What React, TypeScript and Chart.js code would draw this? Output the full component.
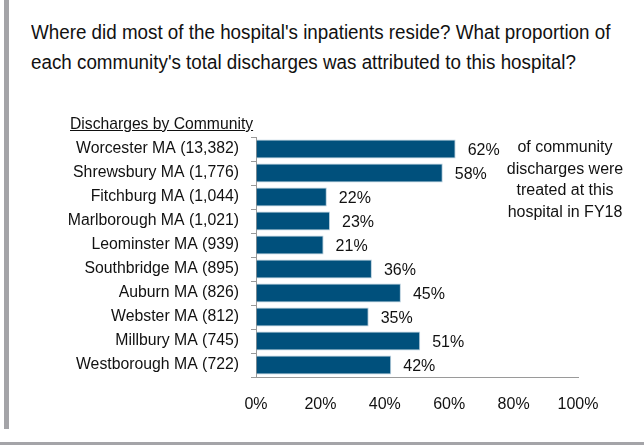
import React, { useEffect, useRef } from "react";
import { Chart, registerables } from "chart.js";

Chart.register(...registerables);

const communities = [
  "Worcester MA (13,382)",
  "Shrewsbury MA (1,776)",
  "Fitchburg MA (1,044)",
  "Marlborough MA (1,021)",
  "Leominster MA (939)",
  "Southbridge MA (895)",
  "Auburn MA (826)",
  "Webster MA (812)",
  "Millbury MA (745)",
  "Westborough MA (722)",
];
const sharePercent = [62, 58, 22, 23, 21, 36, 45, 35, 51, 42];
const xTickValues = [0, 20, 40, 60, 80, 100];
const titleLines = [
  "Where did most of the hospital's inpatients reside? What proportion of",
  "each community's total discharges was attributed to this hospital?",
];
const axisHeading = "Discharges by Community";
const noteLines = [
  "of community",
  "discharges were",
  "treated at this",
  "hospital in FY18",
];

const FONT = '"Liberation Sans", Arial, sans-serif';
const BAR_COLOR = "#00507C";
const AXIS_COLOR = "#9a9a9a";

export default function App() {
  const canvasRef = useRef<HTMLCanvasElement | null>(null);

  useEffect(() => {
    const canvas = canvasRef.current;
    if (!canvas) return;

    const labelPlugin = {
      id: "barValueLabels",
      afterDatasetsDraw(chart: any) {
        const ctx = chart.ctx;
        const meta = chart.getDatasetMeta(0);
        ctx.save();
        ctx.font = `16px ${FONT}`;
        ctx.fillStyle = "#111";
        ctx.textAlign = "left";
        ctx.textBaseline = "middle";
        meta.data.forEach((el: any, i: number) => {
          ctx.fillText(`${sharePercent[i]}%`, el.x + 12, el.y + 2);
        });
        ctx.restore();
      },
    };

    const chart = new Chart(canvas, {
      type: "bar",
      data: {
        labels: communities,
        datasets: [
          {
            data: sharePercent,
            backgroundColor: BAR_COLOR,
            borderColor: "#b9cfdd",
            borderWidth: 1,
            categoryPercentage: 0.8,
            barPercentage: 1,
          },
        ],
      },
      options: {
        indexAxis: "y",
        animation: false,
        responsive: false,
        maintainAspectRatio: false,
        layout: { padding: { top: 137, right: 66, left: 0, bottom: 0 } },
        plugins: {
          legend: { display: false },
          tooltip: { enabled: false },
          title: { display: false },
        },
        scales: {
          y: {
            type: "category",
            offset: true,
            grid: {
              offset: true,
              drawOnChartArea: false,
              drawTicks: true,
              tickLength: 5,
              color: AXIS_COLOR,
            },
            border: { display: true, color: AXIS_COLOR, width: 1 },
            ticks: {
              autoSkip: false,
              font: { size: 15.8, family: FONT },
              color: "#111",
              padding: 12,
            },
            afterFit: (s: any) => {
              s.width = 256;
            },
          },
          x: {
            type: "linear",
            min: 0,
            max: 100,
            afterBuildTicks: (s: any) => {
              s.ticks = xTickValues.map((v) => ({ value: v }));
            },
            grid: { drawOnChartArea: false, drawTicks: false },
            border: { display: true, color: AXIS_COLOR, width: 1 },
            ticks: {
              autoSkip: false,
              font: { size: 16, family: FONT },
              color: "#111",
              padding: 18,
              callback: (v: any) => `${v}%`,
            },
            afterFit: (s: any) => {
              s.height = 68;
            },
          },
        },
      },
      plugins: [labelPlugin],
    } as any);

    return () => chart.destroy();
  }, []);

  return (
    <div
      style={{
        position: "fixed",
        left: 0,
        top: 0,
        width: 644,
        height: 445,
        background: "#fff",
        fontFamily: FONT,
        color: "#111",
        overflow: "hidden",
      }}
    >
      <div
        style={{
          position: "absolute",
          left: 4,
          top: 0,
          width: 5,
          height: 429,
          background: "#a4a4a8",
        }}
      />
      <div
        style={{
          position: "absolute",
          left: 0,
          top: 442,
          width: 644,
          height: 3,
          background: "#a4a4a8",
        }}
      />
      <div
        style={{
          position: "absolute",
          left: 31,
          top: 18,
          fontSize: 20,
          lineHeight: "29.5px",
          whiteSpace: "nowrap",
          transform: "scaleX(0.94)",
          transformOrigin: "left top",
        }}
      >
        {titleLines.map((t, i) => (
          <div key={i}>{t}</div>
        ))}
      </div>
      <canvas
        ref={canvasRef}
        width={644}
        height={445}
        style={{ position: "absolute", left: 0, top: 0, width: 644, height: 445 }}
      />
      <div
        style={{
          position: "absolute",
          left: 70,
          top: 115,
          fontSize: 15.7,
          lineHeight: "18px",
          textDecoration: "underline",
          whiteSpace: "nowrap",
        }}
      >
        {axisHeading}
      </div>
      <div
        style={{
          position: "absolute",
          left: 505,
          top: 136,
          width: 120,
          fontSize: 16,
          lineHeight: "21.5px",
          textAlign: "center",
          whiteSpace: "nowrap",
        }}
      >
        {noteLines.map((t, i) => (
          <div key={i}>{t}</div>
        ))}
      </div>
    </div>
  );
}
